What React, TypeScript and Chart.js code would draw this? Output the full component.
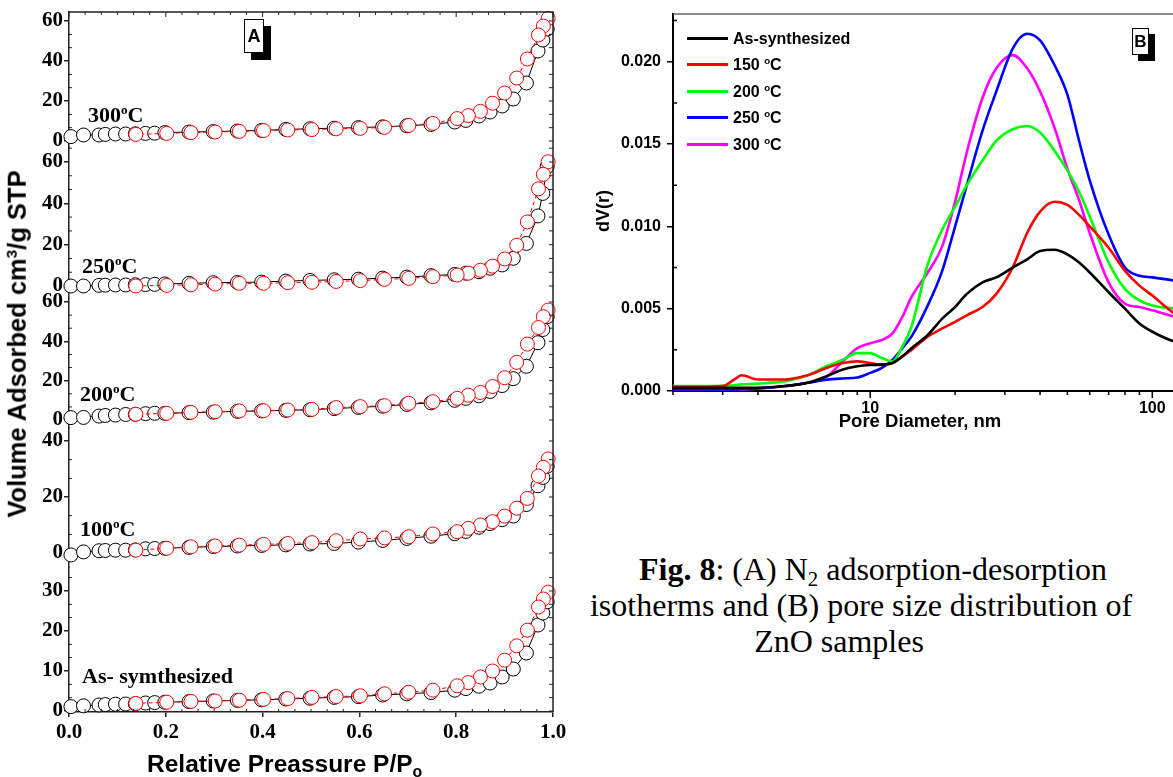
import React, { useEffect, useRef } from "react";
import { Chart, registerables } from "chart.js";
Chart.register(...registerables);
Chart.defaults.color = "#000";

const SERIF = "'Liberation Serif', 'Times New Roman', serif";
const SANS = "'Liberation Sans', Arial, sans-serif";

// ---------- Panel A: isotherms ----------
const adsP = [0.004, 0.03, 0.062, 0.075, 0.096, 0.117, 0.137, 0.158, 0.177, 0.198, 0.248, 0.298, 0.348, 0.398, 0.448, 0.498, 0.548, 0.598, 0.648, 0.698, 0.748, 0.797, 0.82, 0.847, 0.87, 0.895, 0.918, 0.945, 0.969, 0.979, 0.988];
const desP = [0.99, 0.98, 0.97, 0.947, 0.925, 0.9, 0.875, 0.85, 0.825, 0.802, 0.752, 0.702, 0.652, 0.602, 0.552, 0.502, 0.452, 0.402, 0.352, 0.302, 0.252, 0.202, 0.138];

const ads300 = [2.2, 3.0, 3.0, 3.3, 3.5, 3.5, 3.6, 3.8, 3.9, 4.2, 4.5, 4.7, 5.0, 5.3, 5.8, 6.1, 6.4, 6.7, 7.1, 7.6, 8.3, 9.5, 10.3, 12.5, 14.5, 17.5, 21.0, 29.0, 45.0, 50.5, 56.0];
const des300 = [61.3, 57.5, 53.0, 41.0, 31.5, 24.0, 18.9, 14.8, 12.7, 11.2, 8.8, 7.8, 6.8, 6.3, 6.1, 5.7, 5.5, 5.2, 4.8, 4.5, 4.2, 3.8, 3.3];
const ads250 = [0.0, 0.0, 0.3, 0.4, 0.5, 0.5, 0.6, 0.7, 0.8, 1.0, 1.3, 1.6, 1.7, 1.9, 2.4, 2.7, 3.0, 3.3, 3.8, 4.3, 5.0, 5.6, 6.2, 6.9, 8.6, 10.2, 13.4, 20.6, 33.9, 44.8, 57.8];
const des250 = [60.1, 54.0, 47.0, 31.0, 19.7, 13.1, 9.6, 7.6, 6.2, 5.3, 4.5, 3.7, 3.2, 2.6, 2.2, 1.8, 1.6, 1.3, 1.3, 0.9, 0.6, 0.3, 0.0];
const ads200 = [1.2, 1.3, 2.0, 2.3, 2.5, 2.8, 2.9, 3.2, 3.4, 3.4, 3.7, 4.0, 4.4, 4.6, 4.9, 5.2, 5.8, 6.4, 7.0, 7.9, 8.7, 10.0, 11.0, 12.3, 14.5, 17.5, 21.0, 27.3, 39.3, 46.0, 52.5];
const des200 = [55.9, 52.5, 47.0, 38.6, 29.3, 21.5, 17.0, 14.0, 12.6, 11.0, 9.3, 8.5, 7.3, 6.8, 6.3, 5.4, 5.1, 4.7, 4.6, 4.2, 3.9, 3.4, 2.9];
const ads100 = [-0.7, 0.4, 0.8, 0.9, 1.0, 1.0, 1.1, 1.5, 1.6, 1.7, 2.0, 2.3, 2.5, 2.7, 2.9, 3.2, 3.4, 3.9, 4.5, 5.2, 6.0, 6.9, 7.7, 9.2, 10.5, 11.9, 13.2, 17.3, 24.0, 27.0, 31.0];
const des100 = [33.6, 30.6, 27.5, 19.5, 16.0, 13.2, 11.2, 10.0, 8.8, 7.6, 6.8, 5.8, 5.4, 5.0, 4.4, 3.7, 3.4, 3.1, 2.8, 2.5, 2.2, 1.7, 1.0];
const adsAs = [1.1, 1.3, 1.5, 1.6, 1.7, 1.75, 1.8, 2.0, 2.1, 2.2, 2.35, 2.5, 2.65, 2.8, 3.0, 3.2, 3.4, 3.6, 4.0, 4.3, 4.6, 5.2, 5.6, 6.2, 7.0, 8.5, 10.5, 14.5, 21.5, 24.5, 27.3];
const desAs = [29.7, 28.0, 26.0, 20.2, 16.3, 12.7, 10.0, 8.5, 7.1, 6.3, 5.2, 4.7, 4.3, 3.8, 3.6, 3.4, 3.1, 2.9, 2.7, 2.5, 2.4, 2.2, 1.9];

// layer axis ranges (top to bottom)
const layerIds = ["y1", "y2", "y3", "y4", "y5"];
const layerMin = [-3, -2.9, -4.07, -5, -0.25];
const layerMax = [64.5, 67.25, 65.07, 44.64, 36];
const layerStep = [20, 20, 20, 20, 10];
const layerTicks = [
  [0, 20, 40, 60],
  [0, 20, 40, 60],
  [0, 20, 40, 60],
  [0, 20, 40],
  [0, 10, 20, 30],
];
const layerWeight = [135, 145, 136, 139, 145];
const layerAds = [ads300, ads250, ads200, ads100, adsAs];
const layerDes = [des300, des250, des200, des100, desAs];

const xTicksA = [0, 0.2, 0.4, 0.6, 0.8, 1.0];

// ---------- Panel B: pore size distribution ----------
const poreD = [2, 2.5, 3, 3.3, 3.5, 4, 5, 6, 7, 8, 9, 10, 11, 12, 13, 14, 16, 18, 20, 22, 25, 28, 32, 36, 40, 45, 50, 55, 60, 70, 80, 90, 100, 120, 150];
const psdAs = [0.0002, 0.0002, 0.0002, 0.0002, 0.0002, 0.0002, 0.0003, 0.0005, 0.0009, 0.0013, 0.0015, 0.00158, 0.0016, 0.0017, 0.0021, 0.0026, 0.0034, 0.0044, 0.0051, 0.0059, 0.0066, 0.0069, 0.0075, 0.008, 0.0085, 0.00858, 0.0083, 0.0078, 0.0072, 0.006, 0.005, 0.0041, 0.0036, 0.003, 0.0027];
const psd150 = [0.00025, 0.00025, 0.0003, 0.0007, 0.00096, 0.0007, 0.0007, 0.00095, 0.0014, 0.0017, 0.0018, 0.0017, 0.0016, 0.0017, 0.0021, 0.0025, 0.0033, 0.0038, 0.0042, 0.0046, 0.0051, 0.0059, 0.0075, 0.0096, 0.0109, 0.0115, 0.0113, 0.0107, 0.01, 0.0087, 0.0073, 0.0064, 0.0058, 0.0047, 0.004];
const psd200 = [0.0003, 0.0003, 0.00032, 0.00035, 0.0004, 0.00045, 0.0006, 0.00096, 0.0015, 0.0019, 0.0023, 0.0023, 0.002, 0.0018, 0.0027, 0.0039, 0.0077, 0.0098, 0.0112, 0.0125, 0.014, 0.0152, 0.0159, 0.0161, 0.0157, 0.0146, 0.0134, 0.0121, 0.0106, 0.0078, 0.0062, 0.0055, 0.0052, 0.005, 0.0047];
const psd250 = [0.0001, 0.0001, 0.0001, 0.0001, 0.00012, 0.00015, 0.0003, 0.0005, 0.00068, 0.00076, 0.00082, 0.0011, 0.0014, 0.0019, 0.0026, 0.0033, 0.0052, 0.0073, 0.01, 0.0125, 0.0158, 0.0182, 0.0208, 0.0217, 0.0213, 0.0198, 0.018, 0.0152, 0.0128, 0.0095, 0.0075, 0.007, 0.0069, 0.0067, 0.0064];
const psd300 = [0.0001, 0.0001, 0.0001, 0.0001, 0.0001, 0.00015, 0.0003, 0.0005, 0.00086, 0.0018, 0.0026, 0.0029, 0.0031, 0.0035, 0.0045, 0.0057, 0.0072, 0.0088, 0.0115, 0.0145, 0.0178, 0.0196, 0.0204, 0.0196, 0.0182, 0.016, 0.0135, 0.0116, 0.0096, 0.0066, 0.0053, 0.0051, 0.0049, 0.0045, 0.004];
const psdSeries = [psdAs, psd150, psd200, psd250, psd300];
const psdNames = ["As-synthesized", "150 °C", "200 °C", "250 °C", "300 °C"];
const psdColors = ["#000000", "#ff0000", "#00ff00", "#0000ff", "#ff00ff"];
const yTicksB = [0, 0.005, 0.01, 0.015, 0.02];

const pts = (xs: number[], ys: number[]) => xs.map((x, i) => ({ x, y: ys[i] }));

const fixBox = (w?: number, h?: number) => (s: any) => {
  if (w !== undefined) s.width = w;
  if (h !== undefined) s.height = h;
  s.paddingLeft = 0;
  s.paddingRight = 0;
  s.paddingTop = 0;
  s.paddingBottom = 0;
};

const frameA = {
  id: "frameA",
  afterDraw(chart: any) {
    const { ctx, chartArea: a } = chart;
    ctx.save();
    ctx.strokeStyle = "#222";
    ctx.lineWidth = 1.5;
    ctx.beginPath();
    ctx.moveTo(a.left, a.top);
    ctx.lineTo(a.right, a.top);
    ctx.lineTo(a.right, a.bottom);
    ctx.stroke();
    ctx.lineWidth = 1;
    ctx.beginPath();
    const xs = chart.scales.x;
    for (let k = 0; k <= 30; k++) {
      const px = xs.getPixelForValue(k / 30);
      ctx.moveTo(px, a.top);
      ctx.lineTo(px, a.top + (k % 6 === 0 ? 5 : 3));
      if (k % 6 !== 0) {
        ctx.moveTo(px, a.bottom);
        ctx.lineTo(px, a.bottom - 3);
      }
    }
    layerIds.forEach((id, i) => {
      const s = chart.scales[id];
      const st = layerStep[i] / 3;
      for (let k = Math.ceil(s.min / st); k * st <= s.max; k++) {
        const py = s.getPixelForValue(k * st);
        ctx.moveTo(a.right, py);
        ctx.lineTo(a.right - 4, py);
        if (k % 3 !== 0) {
          ctx.moveTo(a.left, py);
          ctx.lineTo(a.left + 3, py);
        }
      }
    });
    ctx.stroke();
    ctx.restore();
  },
};

const frameB = {
  id: "frameB",
  afterDraw(chart: any) {
    const { ctx, chartArea: a } = chart;
    const xs = chart.scales.x;
    const ys = chart.scales.y;
    ctx.save();
    ctx.strokeStyle = "#666";
    ctx.lineWidth = 1.5;
    ctx.beginPath();
    ctx.moveTo(a.left, a.top);
    ctx.lineTo(a.right, a.top);
    ctx.stroke();
    ctx.strokeStyle = "#000";
    ctx.lineWidth = 1.5;
    ctx.beginPath();
    for (const dec of [1, 10, 100]) {
      for (let m = 1; m <= 9; m++) {
        const v = m * dec;
        if (v < xs.min || v > xs.max) continue;
        const px = xs.getPixelForValue(v);
        ctx.moveTo(px, a.bottom);
        ctx.lineTo(px, a.bottom + (m === 1 ? 7 : 4));
      }
    }
    for (let k = 0; k < 10; k++) {
      const v = 0.0025 + k * 0.005;
      if (v > ys.max) break;
      const py = ys.getPixelForValue(v);
      ctx.moveTo(a.left, py);
      ctx.lineTo(a.left + 4, py);
    }
    ctx.stroke();
    ctx.restore();
  },
};

function buildA(): any {
  const datasets: any[] = [];
  layerIds.forEach((id, i) => {
    datasets.push({
      label: "desorption",
      data: pts(desP, layerDes[i]),
      yAxisID: id,
      borderColor: "#ff0000",
      borderWidth: 1,
      borderDash: [4, 3],
      pointRadius: 7,
      pointBorderWidth: 1,
      pointBorderColor: "#ff0000",
      pointBackgroundColor: "#ffffff",
      order: 0,
      clip: false,
      tension: 0,
    });
    datasets.push({
      label: "adsorption",
      data: pts(adsP, layerAds[i]),
      yAxisID: id,
      borderColor: "#000000",
      borderWidth: 1,
      pointRadius: 7,
      pointBorderWidth: 1,
      pointBorderColor: "#000000",
      pointBackgroundColor: "#ffffff",
      order: 1,
      clip: false,
      tension: 0,
    });
  });
  const scales: any = {
    x: {
      type: "linear",
      position: "bottom",
      min: 0,
      max: 1,
      afterBuildTicks: (s: any) => {
        s.ticks = xTicksA.map((v) => ({ value: v }));
      },
      ticks: {
        callback: (v: any) => Number(v).toFixed(1),
        font: { family: SERIF, weight: "bold", size: 21 },
        color: "#000",
        padding: 3,
        maxRotation: 0,
        autoSkip: false,
      },
      grid: { display: true, drawOnChartArea: false, drawTicks: true, tickLength: 5, color: "#222", lineWidth: 1.5 },
      border: { display: true, color: "#222", width: 1.5 },
      afterFit: fixBox(undefined, 65),
    },
  };
  layerIds.forEach((id, i) => {
    scales[id] = {
      type: "linear",
      position: "left",
      stack: "A",
      stackWeight: layerWeight[i],
      weight: 10 - i,
      min: layerMin[i],
      max: layerMax[i],
      ticks: {
        autoSkip: false,
        font: { family: SERIF, weight: "bold", size: 21 },
        color: "#000",
        padding: 1,
        callback: (v: any) => String(Math.round(Number(v))),
      },
      afterBuildTicks: (s: any) => {
        s.ticks = layerTicks[i].map((v) => ({ value: v }));
      },
      grid: { display: true, drawOnChartArea: false, drawTicks: true, tickLength: 5, color: "#222", lineWidth: 1.5 },
      border: { display: true, color: "#222", width: 1.5 },
      afterFit: fixBox(69, undefined),
    };
  });
  return {
    type: "line",
    data: { datasets },
    options: {
      animation: false,
      responsive: false,
      devicePixelRatio: 1,
      layout: { padding: { left: 0, top: 12, right: 22, bottom: 0 } },
      plugins: { legend: { display: false }, tooltip: { enabled: false } },
      scales,
    },
    plugins: [frameA],
  };
}

function buildB(): any {
  const datasets = psdSeries.map((s, i) => ({
    label: psdNames[i],
    data: pts(poreD, s),
    borderColor: psdColors[i],
    borderWidth: 2.6,
    pointRadius: 0,
    cubicInterpolationMode: "monotone",
    fill: false,
    order: i,
  }));
  return {
    type: "line",
    data: { datasets },
    options: {
      animation: false,
      responsive: false,
      devicePixelRatio: 1,
      layout: { padding: { left: 0, top: 14, right: 13, bottom: 0 } },
      plugins: { legend: { display: false }, tooltip: { enabled: false } },
      scales: {
        x: {
          type: "logarithmic",
          min: 2,
          max: 150,
          ticks: {
            autoSkip: false,
            maxRotation: 0,
            font: { family: SANS, weight: "bold", size: 16 },
            color: "#000",
            padding: 1,
            callback: (v: any) => {
              const l = Math.log10(Number(v));
              return Math.abs(l - Math.round(l)) < 1e-9 ? String(Math.round(Number(v))) : "";
            },
          },
          grid: { display: false, drawTicks: true, tickLength: 7 },
          border: { display: true, color: "#000", width: 2 },
          afterFit: fixBox(undefined, 54),
        },
        y: {
          type: "linear",
          min: 0,
          max: 0.0229,
          afterBuildTicks: (s: any) => {
            s.ticks = yTicksB.map((v) => ({ value: v }));
          },
          ticks: {
            autoSkip: false,
            font: { family: SANS, weight: "bold", size: 16 },
            color: "#000",
            padding: 6,
            callback: (v: any) => Number(v).toFixed(3),
          },
          grid: { display: true, drawOnChartArea: false, drawTicks: true, tickLength: 6, color: "#000", lineWidth: 1.5 },
          border: { display: true, color: "#000", width: 2 },
          afterFit: fixBox(98, undefined),
        },
      },
    },
    plugins: [frameB],
  };
}

const Sup = ({ children }: any) => (
  <span style={{ fontSize: "0.6em", position: "relative", top: "-0.62em" }}>{children}</span>
);
const Sub = ({ children }: any) => (
  <span style={{ fontSize: "0.65em", position: "relative", top: "0.3em" }}>{children}</span>
);

function Txt({ x, y, size, serif, bold = true, anchor = "start", children }: any) {
  const tx = anchor === "middle" ? "-50%" : anchor === "end" ? "-100%" : "0";
  return (
    <div
      style={{
        position: "absolute",
        left: x,
        top: y - size * 0.85,
        fontFamily: serif ? SERIF : SANS,
        fontSize: size,
        fontWeight: bold ? "bold" : "normal",
        lineHeight: `${size}px`,
        whiteSpace: "nowrap",
        transform: `translateX(${tx})`,
        color: "#000",
      }}
    >
      {children}
    </div>
  );
}

function VTxt({ cx, cy, size, children }: any) {
  return (
    <div
      style={{
        position: "absolute",
        left: cx,
        top: cy,
        transform: "translate(-50%,-50%) rotate(-90deg)",
        fontFamily: SANS,
        fontWeight: "bold",
        fontSize: size,
        lineHeight: `${size}px`,
        whiteSpace: "nowrap",
        color: "#000",
      }}
    >
      {children}
    </div>
  );
}

function Badge({ x, y, w, h, off, size, children }: any) {
  return (
    <div
      style={{
        position: "absolute",
        left: x,
        top: y,
        width: w,
        height: h,
        boxSizing: "border-box",
        border: "1px solid #000",
        background: "#fff",
        boxShadow: `${off}px ${off}px 0 #000`,
        display: "flex",
        alignItems: "center",
        justifyContent: "center",
        fontFamily: SANS,
        fontWeight: "bold",
        fontSize: size,
        color: "#000",
      }}
    >
      {children}
    </div>
  );
}

export default function App() {
  const refA = useRef<HTMLCanvasElement>(null);
  const refB = useRef<HTMLCanvasElement>(null);
  useEffect(() => {
    const a = new Chart(refA.current as HTMLCanvasElement, buildA());
    const b = new Chart(refB.current as HTMLCanvasElement, buildB());
    return () => {
      a.destroy();
      b.destroy();
    };
  }, []);

  const legendRows = [38, 64, 91, 117, 144];

  return (
    <div style={{ position: "absolute", left: 0, top: 0, width: 1173, height: 777, overflow: "hidden", background: "#fff" }}>
      <canvas ref={refA} width={575} height={777} style={{ position: "absolute", left: 0, top: 0, width: 575, height: 777 }} />
      <canvas ref={refB} width={640} height={445} style={{ position: "absolute", left: 575, top: 0, width: 640, height: 445 }} />

      {/* Panel A annotations */}
      <Txt x={88} y={123} size={22} serif>300<Sup>o</Sup>C</Txt>
      <Txt x={82} y={274} size={22} serif>250<Sup>o</Sup>C</Txt>
      <Txt x={80} y={402} size={22} serif>200<Sup>o</Sup>C</Txt>
      <Txt x={80} y={537} size={22} serif>100<Sup>o</Sup>C</Txt>
      <Txt x={82} y={684} size={22} serif>As- symthesized</Txt>
      <Badge x={244} y={19} w={20} h={34} off={7} size={18}>A</Badge>
      <VTxt cx={19} cy={344} size={25.5}>Volume Adsorbed cm<Sup>3</Sup>/g STP</VTxt>
      <Txt x={147} y={773} size={24.5}>Relative Preassure P/P<Sub>o</Sub></Txt>

      {/* Panel B annotations */}
      <VTxt cx={603} cy={211} size={18}>dV(r)</VTxt>
      <Txt x={920} y={428} size={18.5} anchor="middle">Pore Diameter, nm</Txt>
      <Badge x={1132} y={28} w={17} h={27} off={6} size={17}>B</Badge>
      {psdNames.map((n, i) => (
        <React.Fragment key={n}>
          <div style={{ position: "absolute", left: 687, top: legendRows[i] - 1.5, width: 41, height: 3, background: psdColors[i] }} />
          <Txt x={733} y={legendRows[i] + 6.5} size={16}>
            {i === 0 ? n : (<>{n.split(" ")[0]} <Sup>o</Sup>C</>)}
          </Txt>
        </React.Fragment>
      ))}

      {/* Caption */}
      <Txt x={873} y={580} size={32} serif bold={false} anchor="middle"><b>Fig. 8</b>: (A) N<Sub>2</Sub> adsorption-desorption</Txt>
      <Txt x={861} y={616} size={32} serif bold={false} anchor="middle">isotherms and (B) pore size distribution of</Txt>
      <Txt x={839} y={652} size={32} serif bold={false} anchor="middle">ZnO samples</Txt>
    </div>
  );
}
